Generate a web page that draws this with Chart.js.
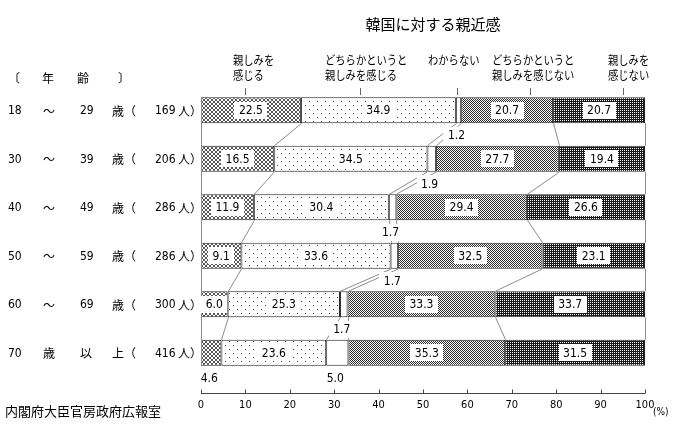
<!DOCTYPE html>
<html>
<head>
<meta charset="utf-8">
<script src="https://cdn.jsdelivr.net/npm/chart.js@4/dist/chart.umd.min.js"></script>
<style>
  body { margin: 0; background: #fff; }
  #myChart { display: block; }
</style>
</head>
<body>
<canvas id="myChart" width="681" height="425"></canvas>
<script>
// data
let title = "韓国に対する親近感";
let source = "内閣府大臣官房政府広報室";
let ageFrom = ["18", "30", "40", "50", "60", "70"];
let ageMid = ["～", "～", "～", "～", "～", "歳"];
let ageTo = ["29", "39", "49", "59", "69", "以"];
let ageUnit = ["歳（", "歳（", "歳（", "歳（", "歳（", "上（"];
let respondents = ["169", "206", "286", "286", "300", "416"];
let seriesNames = ["親しみを感じる", "どちらかというと親しみを感じる", "わからない", "どちらかというと親しみを感じない", "親しみを感じない"];
let headerLines = [["親しみを", "感じる"], ["どちらかというと", "親しみを感じる"], ["わからない"], ["どちらかというと", "親しみを感じない"], ["親しみを", "感じない"]];
let feelClose = [22.5, 16.5, 11.9, 9.1, 6.0, 4.6];
let fairlyClose = [34.9, 34.5, 30.4, 33.6, 25.3, 23.6];
let dontKnow = [1.2, 1.9, 1.7, 1.7, 1.7, 5.0];
let fairlyNotClose = [20.7, 27.7, 29.4, 32.5, 33.3, 35.3];
let notClose = [20.7, 19.4, 26.6, 23.1, 33.7, 31.5];

let numFont = '"DejaVu Sans Condensed", "Liberation Sans Narrow", sans-serif';
let jpFont = '"Noto Sans CJK JP", sans-serif';

// little bitmap fills like the original
function makePattern(w, h, bg, fg, dots) {
    let c = document.createElement("canvas");
    c.width = w;
    c.height = h;
    let g = c.getContext("2d");
    g.fillStyle = bg;
    g.fillRect(0, 0, w, h);
    g.fillStyle = fg;
    dots.forEach(d => g.fillRect(d[0], d[1], 1, 1));
    return g.createPattern(c, "repeat");
}

let fills = [
    makePattern(4, 4, "#fff", "#555", [[0,0],[1,1],[2,2],[3,3],[3,0],[2,1],[1,2],[0,3]]),
    makePattern(8, 8, "#fff", "#444", [[1,1],[5,5]]),
    "#fff",
    makePattern(2, 2, "#fff", "#2a2a2a", [[0,0],[1,1]]),
    makePattern(2, 2, "#1a1a1a", "#fff", [[0,0]])
];
let values = [feelClose, fairlyClose, dontKnow, fairlyNotClose, notClose];

function setNum(ctx, size) {
    ctx.font = size + "px " + numFont;
    if ("fontStretch" in ctx) ctx.fontStretch = "condensed";
}

function setJp(ctx, size) {
    ctx.font = size + "px " + jpFont;
    if ("fontStretch" in ctx) ctx.fontStretch = "normal";
}

function box(ctx, text, x, y) {
    setNum(ctx, 12);
    let w = ctx.measureText(text).width + 9;
    ctx.fillStyle = "#fff";
    ctx.fillRect(Math.round(x - w / 2), Math.round(y - 8.5), Math.round(w), 17);
    ctx.fillStyle = "#000";
    ctx.fillText(text, x, y + 1);
}

const decor = {
    id: "decor",
    afterDatasetsDraw(chart) {
        let ctx = chart.ctx;
        let xs = chart.scales.x;
        let area = chart.chartArea;
        let metas = values.map((v, i) => chart.getDatasetMeta(i));
        let n = ageFrom.length;
        ctx.save();

        // series lines between the bars
        ctx.strokeStyle = "#8c8c8c";
        ctx.lineWidth = 1;
        for (let r = 0; r < n - 1; r++) {
            for (let k = 0; k < values.length; k++) {
                let a = metas[k].data[r], b = metas[k].data[r + 1];
                ctx.beginPath();
                ctx.moveTo(Math.round(a.x) + 0.5, a.y + a.height / 2);
                ctx.lineTo(Math.round(b.x) + 0.5, b.y - b.height / 2);
                ctx.stroke();
            }
        }
        let first = metas[0].data[0], last = metas[0].data[n - 1];
        ctx.beginPath();
        ctx.moveTo(Math.round(xs.getPixelForValue(0)) + 0.5, first.y - first.height / 2);
        ctx.lineTo(Math.round(xs.getPixelForValue(0)) + 0.5, last.y + last.height / 2);
        ctx.stroke();

        // value labels
        ctx.textAlign = "center";
        ctx.textBaseline = "middle";
        for (let r = 0; r < n; r++) {
            for (let k = 0; k < values.length; k++) {
                let v = values[k][r];
                let el = metas[k].data[r];
                let cx = (el.x + el.base) / 2;
                if (k !== 2 && v >= 6) {
                    box(ctx, v.toFixed(1), cx, el.y);
                } else {
                    box(ctx, v.toFixed(1), cx - 2, el.y + el.height / 2 + 12);
                }
            }
        }

        // x axis line with small ticks
        let ay = Math.round(area.bottom + 16) + 0.5;
        ctx.strokeStyle = "#444";
        ctx.beginPath();
        ctx.moveTo(xs.getPixelForValue(0), ay);
        ctx.lineTo(xs.getPixelForValue(100), ay);
        xs.ticks.forEach(t => {
            let px = Math.round(xs.getPixelForValue(t.value)) + 0.5;
            ctx.moveTo(px, ay);
            ctx.lineTo(px, ay - 4);
        });
        ctx.stroke();
        ctx.fillStyle = "#000";
        setNum(ctx, 10);
        ctx.textAlign = "left";
        ctx.fillText("(%)", xs.getPixelForValue(100) + 8, ay + 19);

        // left labels
        ctx.textBaseline = "middle";
        let cols = [8, 43, 80, 112, 155, 178];
        let head = ["〔", "年", "齢", "〕"];
        let headX = [8, 42, 77, 118];
        setJp(ctx, 12);
        head.forEach((t, i) => ctx.fillText(t, headX[i], 78));
        for (let r = 0; r < n; r++) {
            let y = metas[0].data[r].y + 1;
            let parts = [ageFrom[r], ageMid[r], ageTo[r], ageUnit[r], respondents[r], "人）"];
            parts.forEach((t, i) => {
                if (/^[0-9]+$/.test(t)) setNum(ctx, 12); else setJp(ctx, 12);
                ctx.fillText(t, cols[i], y);
            });
        }

        // column headings
        setJp(ctx, 12);
        let headLeft = [233, 325, 428, 492, 608];
        let headTick = [245, 360, 457, 530, 623];
        headerLines.forEach((lines, i) => {
            lines.forEach((t, j) => {
                let w = Math.min(ctx.measureText(t).width, t.length * 10.3);
                ctx.fillText(t, headLeft[i], 60 + j * 15, w);
            });
            ctx.strokeStyle = "#666";
            ctx.beginPath();
            ctx.moveTo(headTick[i] + 0.5, 88);
            ctx.lineTo(headTick[i] + 0.5, 95);
            ctx.stroke();
        });

        // title and source
        ctx.textAlign = "center";
        setJp(ctx, 15);
        ctx.fillText(title, 433, 24);
        ctx.textAlign = "left";
        setJp(ctx, 13);
        ctx.fillText(source, 5, 411);
        ctx.restore();
    }
};

new Chart("myChart", {
    type: "bar",
    data: {
        labels: ageFrom,
        datasets: values.map((v, i) => ({
            label: seriesNames[i],
            data: v,
            backgroundColor: fills[i],
            borderColor: "#222",
            borderWidth: 1,
            borderSkipped: false,
            barPercentage: 0.54,
            categoryPercentage: 1
        }))
    },
    options: {
        indexAxis: "y",
        responsive: false,
        animation: false,
        layout: { padding: { left: 201, right: 36, top: 86, bottom: 0 } },
        plugins: {
            legend: { display: false },
            tooltip: { enabled: false }
        },
        scales: {
            x: {
                stacked: true,
                min: 0,
                max: 100,
                grid: { display: false, drawTicks: false },
                border: { display: false },
                ticks: { stepSize: 10, padding: 22, color: "#000", font: { size: 11, family: numFont } },
                afterFit: function (s) { s.height = 48; }
            },
            y: {
                stacked: true,
                display: false
            }
        }
    },
    plugins: [decor]
});
</script>
</body>
</html>
